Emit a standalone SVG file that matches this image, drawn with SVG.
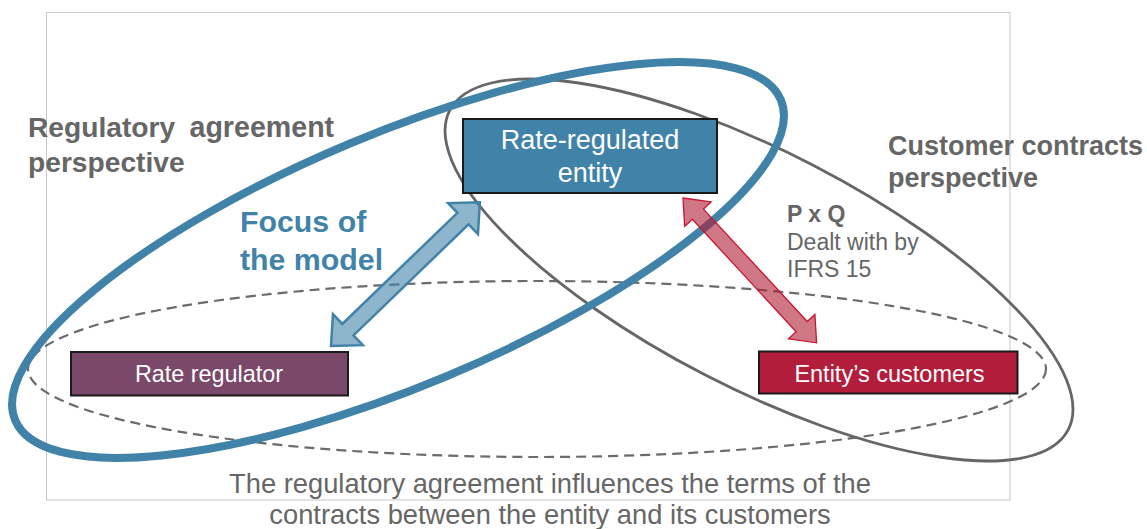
<svg xmlns="http://www.w3.org/2000/svg" width="1147" height="529" viewBox="0 0 1147 529">
<style>
  .lbl{font-family:"Liberation Sans",Arial,sans-serif;fill:#666666;font-weight:bold}
  .box{stroke:#1a1a1a;stroke-width:2}
  .boxtxt{font-family:"Liberation Sans",Arial,sans-serif;fill:#ffffff;text-anchor:middle}
  .note{font-family:"Liberation Sans",Arial,sans-serif;fill:#666666}
</style>
<rect x="0" y="0" width="1147" height="529" fill="#ffffff"/>
<rect x="46.5" y="12.5" width="963.5" height="487.5" fill="none" stroke="#c8c8c8" stroke-width="1"/>

<g id="scopes">
  <ellipse id="common-scope" cx="537" cy="369" rx="509" ry="88" fill="none" stroke="#6b6b6b" stroke-width="2.2" stroke-dasharray="10 6"/>
  <ellipse id="customer-scope" cx="0" cy="0" rx="348" ry="118" transform="translate(759,270) rotate(27.3)" fill="none" stroke="#666666" stroke-width="2.8"/>
  <ellipse id="regulatory-scope" cx="0" cy="0" rx="415" ry="126" transform="translate(398,260) rotate(-22.7)" fill="none" stroke="#4183a8" stroke-width="8"/>
</g>

<g id="entity">
  <rect class="box" x="463" y="119" width="254" height="74" fill="#4183a8"/>
  <text class="boxtxt" x="590" y="148.5" font-size="27">Rate-regulated</text>
  <text class="boxtxt" x="590" y="181.5" font-size="27">entity</text>
</g>
<g id="regulator">
  <rect class="box" x="71" y="352" width="277" height="43.5" fill="#7a4869"/>
  <text class="boxtxt" x="209" y="382" font-size="23.4">Rate regulator</text>
</g>
<g id="customers">
  <rect class="box" x="759" y="351.5" width="258.5" height="42" fill="#b11d3b"/>
  <text class="boxtxt" x="889.5" y="382" font-size="23.5">Entity’s customers</text>
</g>

<g id="connectors">
  <polygon transform="translate(331,346) rotate(-44)" points="0,0 23.5,-21.5 23.5,-8 183.5,-8 183.5,-21.5 207,0 183.5,21.5 183.5,8 23.5,8 23.5,21.5" fill="#4183a8" fill-opacity="0.6" stroke="#4183a8" stroke-width="2.5" stroke-linejoin="miter"/>
  <polygon transform="translate(683,198) rotate(47.3)" points="0,0 22,-18 22,-7.5 175,-7.5 175,-18 197,0 175,18 175,7.5 22,7.5 22,18" fill="#b01c36" fill-opacity="0.6" stroke="#c8142f" stroke-width="1.3"/>
</g>

<g id="labels">
  <text class="lbl" x="28" y="137" font-size="28.2">Regulatory</text>
  <text class="lbl" x="189.5" y="137" font-size="28.6">agreement</text>
  <text class="lbl" x="28" y="172" font-size="28.2">perspective</text>
  <text class="lbl" x="888" y="155" font-size="27">Customer contracts</text>
  <text class="lbl" x="888" y="186.5" font-size="27">perspective</text>
  <text x="240" y="232" font-size="30.3" font-family="Liberation Sans, Arial, sans-serif" font-weight="bold" fill="#4183a8">Focus of</text>
  <text x="240" y="270" font-size="30.3" font-family="Liberation Sans, Arial, sans-serif" font-weight="bold" fill="#4183a8">the model</text>
  <text class="lbl" x="787" y="222" font-size="23">P x Q</text>
  <text class="note" x="787" y="249.5" font-size="23">Dealt with by</text>
  <text class="note" x="787" y="277" font-size="23">IFRS 15</text>
  <text class="note" x="550" y="493" font-size="27.3" text-anchor="middle" fill="#5f5f5f">The regulatory agreement influences the terms of the</text>
  <text class="note" x="550" y="523.5" font-size="27.3" text-anchor="middle" fill="#5f5f5f">contracts between the entity and its customers</text>
</g>
</svg>
